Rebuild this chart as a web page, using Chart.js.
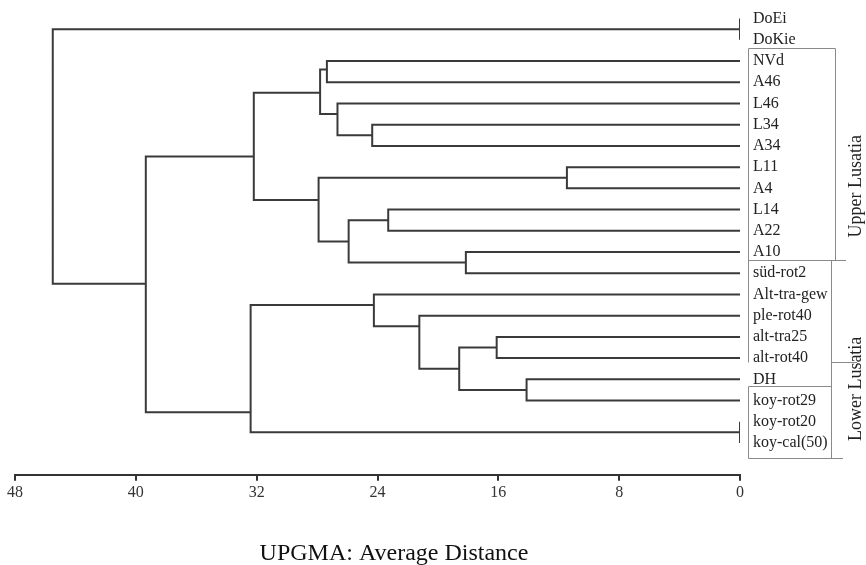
<!DOCTYPE html>
<html lang="en">
<head>
    <meta charset="UTF-8">
    <title>UPGMA: Average Distance</title>
    <style>
        body { margin: 0; background: #fff; }
        #wrap { width: 866px; height: 565px; position: relative; }
    </style>
    <script src="https://cdn.jsdelivr.net/npm/chart.js"></script>
</head>
<body>
    <div id="wrap"><canvas id="myChart"></canvas></div>
    <script>
        // leaves, top to bottom (row index = position)
        const leafNames = ['DoEi', 'DoKie', 'NVd', 'A46', 'L46', 'L34', 'A34', 'L11', 'A4', 'L14', 'A22', 'A10',
            'süd-rot2', 'Alt-tra-gew', 'ple-rot40', 'alt-tra25', 'alt-rot40', 'DH', 'koy-rot29', 'koy-rot20', 'koy-cal(50)'];

        // merges: node id = leafNames.length + index
        const mergeLeft   = [0, 2, 5, 4, 22, 7, 9, 11, 27, 26, 25, 19, 17, 15, 34, 14, 13, 37, 31, 21];
        const mergeRight  = [1, 3, 6, 23, 24, 8, 10, 12, 28, 29, 30, 20, 18, 16, 33, 35, 36, 32, 38, 39];
        const mergeHeight = [0, 27.35, 24.35, 26.65, 27.8, 11.46, 23.29, 18.15, 25.91, 27.9, 32.19,
            0, 14.13, 16.11, 18.59, 21.23, 24.24, 32.4, 39.34, 45.5];
        // row where each node's stem leaves it
        const mergeRow    = [0.5, 2.4, 5.5, 4.5, 3.5, 7.5, 9.5, 11.5, 10.5, 8.55, 6.5,
            19.5, 17.5, 15.5, 16.5, 14.5, 13.5, 18.55, 12.5, null];

        const xTicks = [0, 8, 16, 24, 32, 40, 48];

        const groupNames = ['Upper Lusatia', 'Lower Lusatia'];
        const groupLabelRow = [7.9, 17.45];

        var nLeaf = leafNames.length;
        function nodeHeight(id) { return id < nLeaf ? 0 : mergeHeight[id - nLeaf]; }
        function nodeRow(id) { return id < nLeaf ? id : mergeRow[id - nLeaf]; }

        // build the elbow lines, gaps between merges
        var pts = [];
        for (var i = 0; i < mergeHeight.length; i++) {
            var a = mergeLeft[i], b = mergeRight[i], h = mergeHeight[i];
            pts.push({x: nodeHeight(a), y: nodeRow(a)});
            pts.push({x: h, y: nodeRow(a)});
            pts.push({x: h, y: nodeRow(b)});
            pts.push({x: nodeHeight(b), y: nodeRow(b)});
            pts.push({x: null, y: null});
        }

        var serif = "'Liberation Serif', 'Times New Roman', serif";

        // leaf names, group brackets and the caption
        var extras = {
            id: 'extras',
            afterDraw: function(chart) {
                var ctx = chart.ctx, ys = chart.scales.y, area = chart.chartArea;
                var x0 = area.right;
                ctx.save();
                ctx.fillStyle = '#222';
                ctx.font = '16px ' + serif;
                ctx.textAlign = 'left';
                ctx.textBaseline = 'middle';
                leafNames.forEach(function(name, i) {
                    ctx.fillText(name, x0 + 13, ys.getPixelForValue(i));
                });

                // brackets
                var r = function(v) { return Math.round(ys.getPixelForValue(v)) + 0.5; };
                var L = x0 + 8.5, R = x0 + 95.5, R2 = x0 + 91.5;
                ctx.strokeStyle = '#8a8a8a';
                ctx.lineWidth = 1;
                ctx.beginPath();
                ctx.moveTo(R, r(11.4)); ctx.lineTo(R, r(1.4)); ctx.lineTo(L, r(1.4)); ctx.lineTo(L, r(16.2));
                ctx.moveTo(L, r(11.4)); ctx.lineTo(x0 + 106, r(11.4));
                ctx.moveTo(R2, r(11.4)); ctx.lineTo(R2, r(20.7));
                ctx.moveTo(R2, r(16.2)); ctx.lineTo(x0 + 117, r(16.2));
                ctx.moveTo(R2, r(17.3)); ctx.lineTo(L, r(17.3)); ctx.lineTo(L, r(20.7)); ctx.lineTo(x0 + 103, r(20.7));
                ctx.stroke();

                ctx.font = '18px ' + serif;
                ctx.textAlign = 'center';
                ctx.textBaseline = 'alphabetic';
                groupNames.forEach(function(name, i) {
                    ctx.save();
                    ctx.translate(x0 + 121, ys.getPixelForValue(groupLabelRow[i]));
                    ctx.rotate(-Math.PI / 2);
                    ctx.fillText(name, 0, 0);
                    ctx.restore();
                });

                ctx.font = '24px ' + serif;
                ctx.textBaseline = 'middle';
                ctx.fillStyle = '#111';
                ctx.fillText('UPGMA: Average Distance', 394, 554);
                ctx.restore();
            }
        };

        var ctx = document.getElementById('myChart').getContext('2d');
        var myChart = new Chart(ctx, {
            type: 'line',
            data: {
                datasets: [{
                    data: pts,
                    borderColor: '#3a3a3a',
                    borderWidth: 2,
                    pointRadius: 0,
                    tension: 0,
                    spanGaps: false,
                    fill: false
                }]
            },
            options: {
                responsive: true,
                maintainAspectRatio: false,
                animation: false,
                layout: { padding: { left: 15, right: 126, top: 8, bottom: 61 } },
                plugins: {
                    legend: { display: false },
                    tooltip: { enabled: false }
                },
                scales: {
                    x: {
                        type: 'linear',
                        reverse: true,
                        min: 0,
                        max: 48,
                        afterBuildTicks: function(axis) {
                            axis.ticks = xTicks.map(function(v) { return {value: v}; });
                        },
                        border: { display: true, color: '#333', width: 2 },
                        grid: { drawOnChartArea: false, drawTicks: true, tickLength: 6, color: '#333', lineWidth: 2 },
                        ticks: { font: { family: serif, size: 16 }, color: '#333', padding: 2, maxRotation: 0 }
                    },
                    y: {
                        type: 'linear',
                        display: false,
                        reverse: true,
                        min: -0.5,
                        max: 21.5
                    }
                }
            },
            plugins: [extras]
        });
    </script>
</body>
</html>
